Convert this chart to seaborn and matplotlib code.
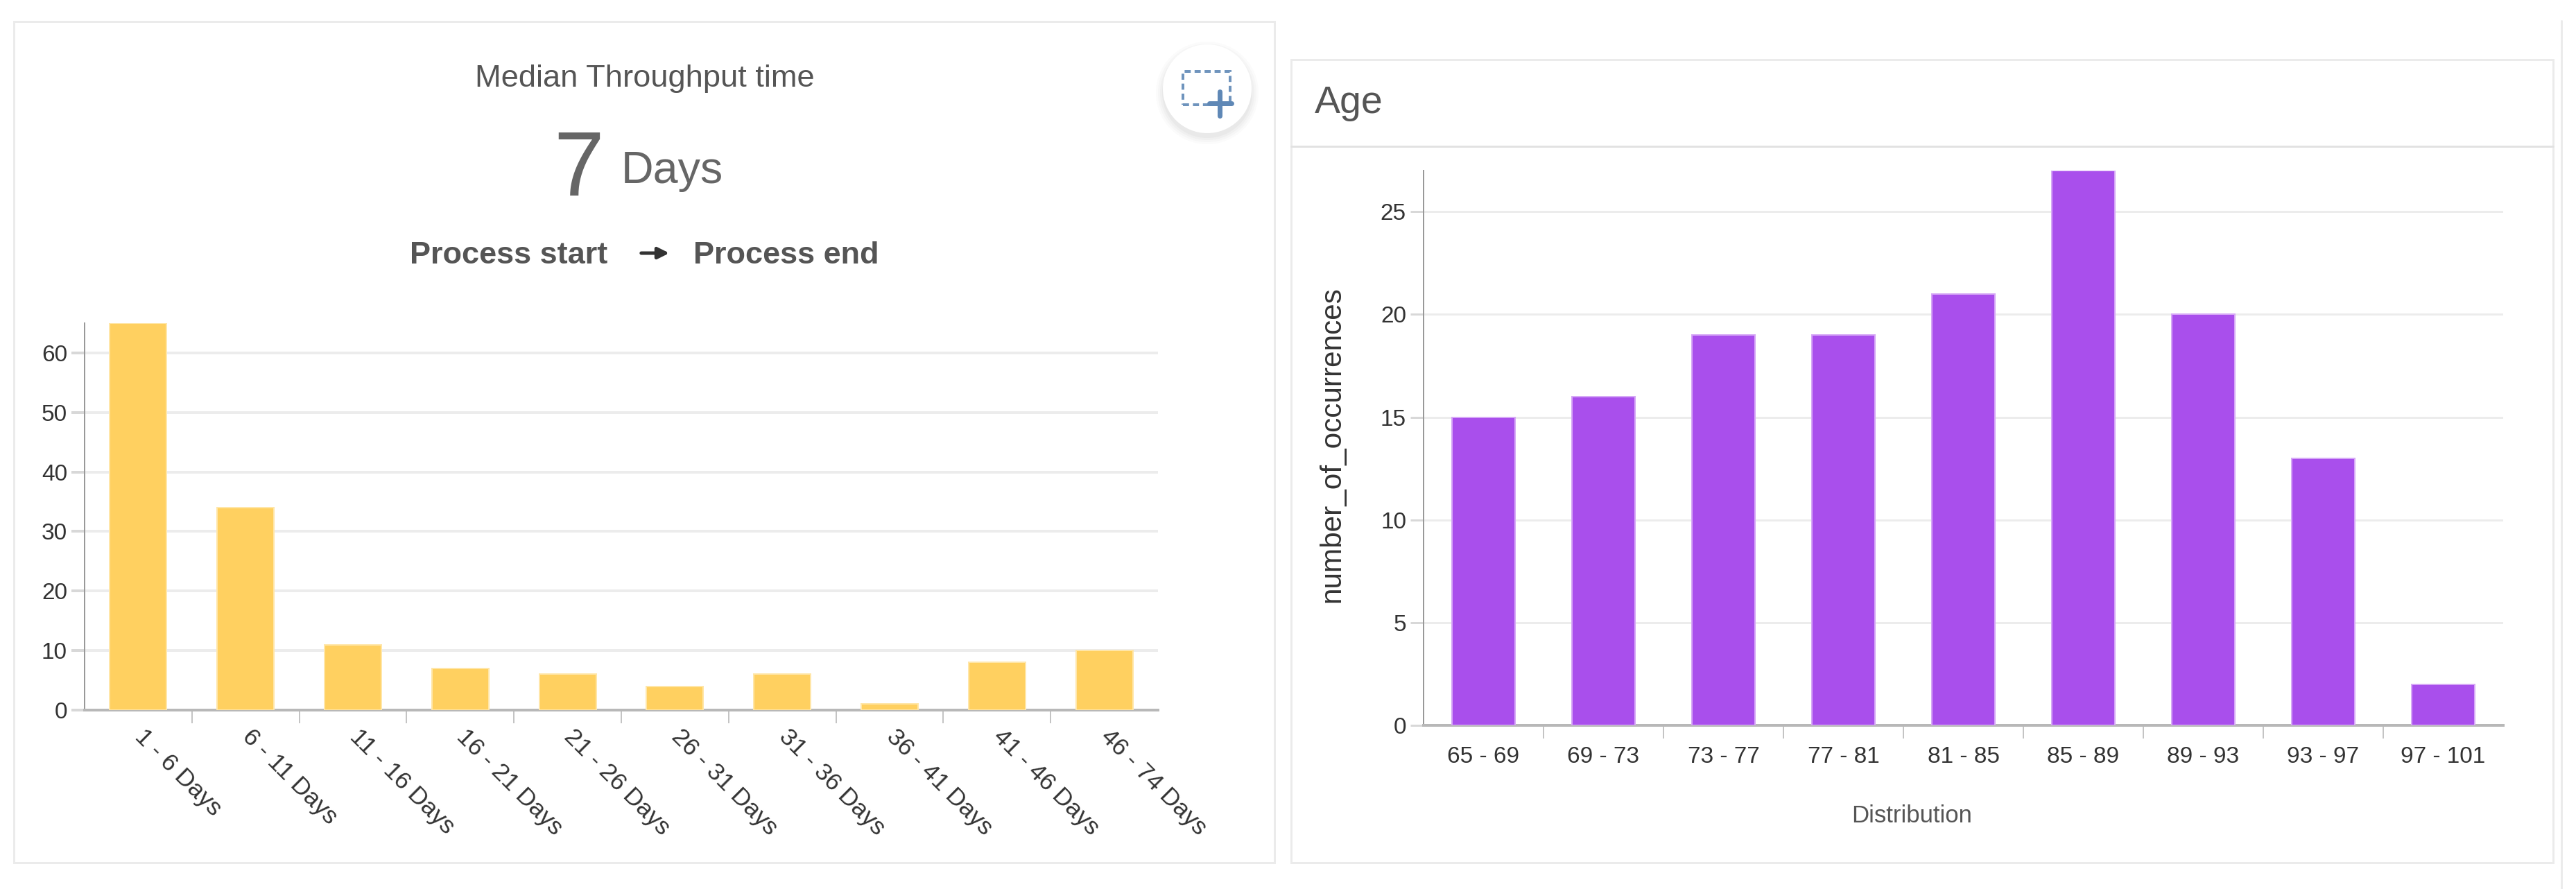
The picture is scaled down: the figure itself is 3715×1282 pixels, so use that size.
import matplotlib
matplotlib.use("Agg")
import matplotlib.pyplot as plt
from matplotlib.patches import Rectangle, Ellipse, FancyArrowPatch
from matplotlib.lines import Line2D
from matplotlib.transforms import ScaledTranslation
import pandas as pd
import seaborn as sns

throughput_labels = ["1 - 6 Days", "6 - 11 Days", "11 - 16 Days", "16 - 21 Days", "21 - 26 Days",
                     "26 - 31 Days", "31 - 36 Days", "36 - 41 Days", "41 - 46 Days", "46 - 74 Days"]
throughput_counts = [65, 34, 11, 7, 6, 4, 6, 1, 8, 10]
throughput_ticks = [0, 10, 20, 30, 40, 50, 60]

age_labels = ["65 - 69", "69 - 73", "73 - 77", "77 - 81", "81 - 85", "85 - 89", "89 - 93", "93 - 97", "97 - 101"]
age_counts = [15, 16, 19, 19, 21, 27, 20, 13, 2]
age_ticks = [0, 5, 10, 15, 20, 25]

W, H = 3715, 1282
sns.set_theme(style="white")
plt.rcParams["font.family"] = ["Liberation Sans", "DejaVu Sans"]
fig = plt.figure(figsize=(W / 100, H / 100), dpi=100, facecolor="white")


def fx(x):
    return x / W


def fy(y):
    return 1 - y / H


def px(n):
    return n * 0.72


def card(x0, y0, x1, y1):
    fig.add_artist(Rectangle((fx(x0), fy(y1)), fx(x1 - x0), (y1 - y0) / H, transform=fig.transFigure,
                             facecolor="white", edgecolor="#ebebeb", linewidth=px(3), zorder=-2))


def text(x, y, s, **kw):
    fig.text(fx(x), fy(y), s, **kw)


def panel(box, labels, counts, ticks, color, edge, ymax, grid_lw):
    x0, ytop, x1, ybot = box
    ax = fig.add_axes([fx(x0), fy(ybot), fx(x1 - x0), (ybot - ytop) / H], facecolor="none", zorder=2)
    df = pd.DataFrame({"label": labels, "count": counts})
    sns.barplot(data=df, x="label", y="count", color=color, saturation=1, width=0.53,
                edgecolor=edge, linewidth=px(2), ax=ax, zorder=3)
    ax.set_xlim(-0.5, len(labels) - 0.5)
    ax.set_ylim(0, ymax)
    ax.set_yticks(ticks)
    ax.yaxis.grid(True, color="#ececec", linewidth=px(grid_lw), zorder=0)
    ax.xaxis.grid(False)
    ax.set_axisbelow(True)
    ax.set_xlabel("")
    ax.set_ylabel("")
    ax.set_xticks([i + 0.5 for i in range(len(labels) - 1)], minor=True)
    ax.tick_params(axis="x", which="minor", bottom=True, length=px(19), width=px(2), color="#c4c4c4")
    ax.tick_params(axis="x", which="major", bottom=False, length=0)
    ax.tick_params(axis="y", left=True, length=px(19), width=px(grid_lw), color="#d8d8d8",
                   labelcolor="#333333", labelsize=24, pad=px(6))
    for s in ("top", "right"):
        ax.spines[s].set_visible(False)
    ax.spines["left"].set_color("#999999")
    ax.spines["left"].set_linewidth(px(2))
    ax.spines["bottom"].set_color("#b8b8b8")
    ax.spines["bottom"].set_linewidth(px(4))
    return ax


# outer cards
fig.add_artist(Line2D([fx(3694), fx(3694)], [fy(30), fy(1282)], transform=fig.transFigure,
                      color="#ebebeb", linewidth=px(3), zorder=-3))
card(20, 31, 1838, 1244)
card(1862, 86, 3682, 1244)
fig.add_artist(Line2D([fx(1862), fx(3682)], [fy(211), fy(211)], transform=fig.transFigure,
                      color="#e2e2e2", linewidth=px(3), zorder=-1))

# left panel header
text(930, 114, "Median Throughput time", fontsize=32.6, color="#555555", ha="center", va="center")
text(798, 282, "7", fontsize=94, color="#666666", ha="left", va="baseline")
text(896, 264, "Days", fontsize=46.5, color="#666666", ha="left", va="baseline")
text(591, 380, "Process start", fontsize=32.5, fontweight="bold", color="#555555", ha="left", va="baseline")
text(1000, 380, "Process end", fontsize=32.5, fontweight="bold", color="#555555", ha="left", va="baseline")
fig.add_artist(FancyArrowPatch((fx(922), fy(365)), (fx(968), fy(365)), transform=fig.transFigure,
                               arrowstyle="-|>", mutation_scale=24, color="#333333", linewidth=px(5)))

# zoom button with a soft shadow
for r, c in ((74, "#fbfbfb"), (71, "#f6f6f6"), (68, "#f0f0f0"), (65, "#e9e9e9")):
    fig.add_artist(Ellipse((fx(1741), fy(134)), 2 * r / W, 2 * r / H, transform=fig.transFigure,
                           facecolor=c, edgecolor="none", zorder=-1))
fig.add_artist(Ellipse((fx(1741), fy(128)), 2 * 64 / W, 2 * 64 / H, transform=fig.transFigure,
                       facecolor="white", edgecolor="none", zorder=-1))
fig.add_artist(Rectangle((fx(1706), fy(151)), fx(68), 48 / H, transform=fig.transFigure, facecolor="none",
                         edgecolor="#6f94bd", linewidth=px(4), linestyle=(0, (2.2, 1.4))))
fig.add_artist(Line2D([fx(1744), fx(1776)], [fy(149), fy(149)], transform=fig.transFigure, color="#5f88b6",
                      linewidth=px(7)))
fig.add_artist(Line2D([fx(1759), fx(1759)], [fy(132), fy(167)], transform=fig.transFigure, color="#5f88b6",
                      linewidth=px(7)))

# left chart
ax1 = panel((122, 466, 1670, 1024), throughput_labels, throughput_counts, throughput_ticks,
            "#FFD060", "#FFE6A8", 65, 4)
ax1.set_xticks(range(len(throughput_labels)))
ax1.set_xticklabels(throughput_labels, rotation=-45, ha="left", rotation_mode="anchor",
                    fontsize=25.5, color="#333333")
ax1.tick_params(axis="x", which="major", pad=px(22))
shift = ScaledTranslation(12 / 100, 0, fig.dpi_scale_trans)
for label in ax1.get_xticklabels():
    label.set_transform(label.get_transform() + shift)

# right chart
ax2 = panel((2053, 246, 3610, 1046), age_labels, age_counts, age_ticks, "#A94FEC", "#D6A8F6", 27, 3)
ax2.set_xticks(range(len(age_labels)))
ax2.set_xticklabels(age_labels, fontsize=24, color="#333333")
ax2.tick_params(axis="x", which="major", pad=px(30))

text(1896, 163, "Age", fontsize=40, color="#555555", ha="left", va="baseline")
text(1921, 641, "number_of_occurrences", fontsize=30.4, color="#333333", rotation=90, ha="center", va="center")
text(2757, 1177, "Distribution", fontsize=25, color="#555555", ha="center", va="center")

fig.savefig("out.png", dpi=100, facecolor="white")
